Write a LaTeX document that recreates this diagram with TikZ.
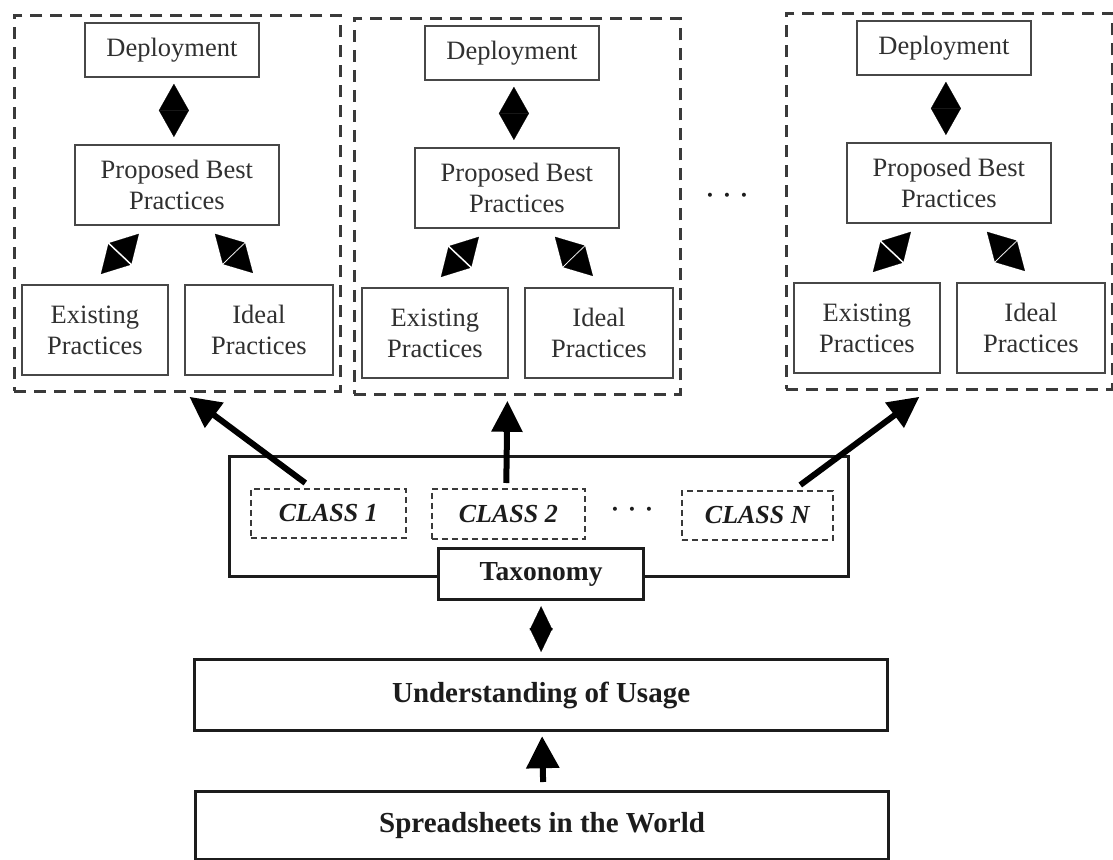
\documentclass[tikz,border=0pt]{standalone}
\usepackage{fontspec}
\setmainfont{Liberation Serif}
\usetikzlibrary{arrows.meta}
\definecolor{boxgray}{HTML}{474747}
\definecolor{textgray}{HTML}{303030}
\definecolor{dashgray}{HTML}{3A3A3A}
\definecolor{ink}{HTML}{1C1C1C}
\tikzset{
  panelframe/.style={draw=dashgray, line width=2.8pt, dash pattern=on 12pt off 8pt, inner sep=0pt, anchor=north west},
  pbox/.style={draw=boxgray, line width=1.8pt, fill=white, inner sep=0pt, align=center, anchor=north west,
    text=textgray, font=\fontsize{26.5}{31}\selectfont},
  dbl/.style={{Triangle[length=26.7pt,width=30pt,color=black]}-{Triangle[length=26.7pt,width=30pt,color=black]}, line width=0.2pt, draw=white},
  taxframe/.style={draw=ink, line width=3pt, inner sep=0pt, anchor=north west},
  classbox/.style={draw=dashgray, line width=1.6pt, dash pattern=on 6pt off 4pt, inner sep=0pt, anchor=north west,
    text=ink, font=\fontsize{26}{30}\selectfont\bfseries\itshape},
  bigbox/.style={draw=ink, line width=3.2pt, fill=white, inner sep=0pt, anchor=north west,
    text=ink, font=\fontsize{29}{34}\selectfont\bfseries},
  carr/.style={-{Triangle[length=31pt,width=30pt]}, line width=6pt, draw=black},
  tdbl/.style={{Triangle[length=24pt,width=23pt,color=black]}-{Triangle[length=24pt,width=23pt,color=black]}, line width=0.2pt, draw=white},
  uarr/.style={-{Triangle[length=32pt,width=32pt]}, line width=6pt, draw=black},
  dotsnode/.style={inner sep=0pt, text=ink, font=\fontsize{34}{34}\selectfont}
}
\newcommand{\mypanel}[3]{%
  \begin{scope}[shift={(#1,#2)}]
    \node[panelframe, minimum width=326pt, minimum height=376pt] (#3f) at (0,0) {};
    \node[pbox, minimum width=174pt, minimum height=54pt] (#3d) at (71,8) {Deployment};
    \node[pbox, minimum width=204pt, minimum height=80pt] (#3p) at (61,130) {Proposed Best\\Practices};
    \node[pbox, minimum width=146pt, minimum height=90pt] (#3e) at (8,270) {Existing\\Practices};
    \node[pbox, minimum width=148pt, minimum height=90pt] (#3i) at (171,270) {Ideal\\Practices};
  \end{scope}
  \draw[dbl] ([shift={(2,6)}]#3d.south) -- ([shift={(-3,-7)}]#3p.south |- #3p.north);
  \draw[dbl] ([shift={(-38,8)}]#3p.south) -- ([shift={(6,-10)}]#3e.north);
  \draw[dbl] ([shift={(38,8)}]#3p.south) -- ([shift={(-6,-11)}]#3i.north);
}
\begin{document}
\begin{tikzpicture}[x=1pt,y=-1pt]
\useasboundingbox[fill=white] (0,0) rectangle (1113,859);

\mypanel{13}{14}{a}
\mypanel{353}{17}{b}
\mypanel{785}{12}{c}

\node[dotsnode] (dtop) at (727,200) {·\,·\,·};

% taxonomy
\node[taxframe, minimum width=619pt, minimum height=120pt] (tax) at (228,455) {};
\node[classbox, minimum width=155pt, minimum height=49pt] (c1) at (250,488) {CLASS 1};
\node[classbox, minimum width=153pt, minimum height=50pt] (c2) at (431,488) {CLASS 2};
\node[classbox, minimum width=151pt, minimum height=49pt] (cn) at (681,490) {CLASS N};
\node[dotsnode] (dmid) at (632,514) {·\,·\,·};
\node[bigbox, minimum width=205pt, minimum height=51pt, font=\fontsize{27.5}{32}\selectfont\bfseries] (tl) at (437,547) {Taxonomy};

\node[bigbox, minimum width=693pt, minimum height=71pt] (und) at (193,658) {Understanding of Usage};
\node[bigbox, minimum width=693pt, minimum height=68pt] (spr) at (194,790) {Spreadsheets in the World};

% arrows from classes
\draw[carr] ([shift={(-23,-5)}]c1.north) -- ([shift={(12,4)}]af.south);
\draw[carr] ([shift={(-2,-5)}]c2.north) -- ([shift={(-10,5)}]bf.south);
\draw[carr] ([shift={(43,-5)}]cn.north) -- ([shift={(-30,6)}]cf.south);

\draw[tdbl] ([shift={(0,5)}]tl.south) -- ([shift={(0,-6)}]und.north);
\draw[uarr] ([shift={(1,-8)}]spr.north) -- ([shift={(1,4)}]und.south);
\end{tikzpicture}
\end{document}
